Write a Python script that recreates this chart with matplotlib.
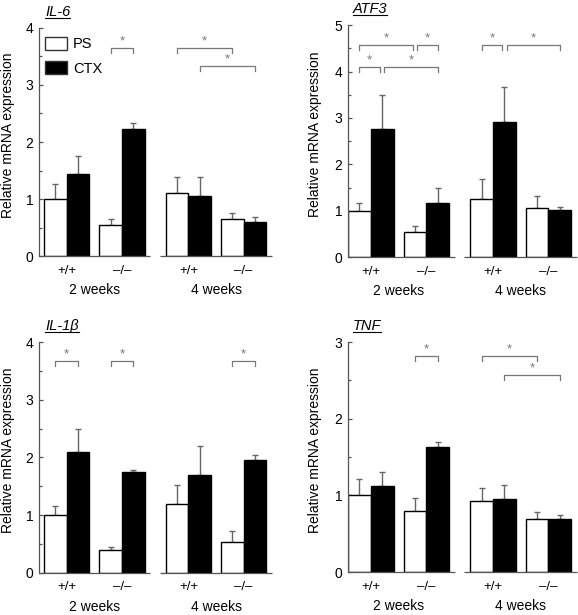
import matplotlib
matplotlib.use('Agg')
import matplotlib.pyplot as plt
from matplotlib.ticker import MultipleLocator
import numpy as np

plt.rcParams['font.family'] = ['Liberation Sans', 'DejaVu Sans']

# ---------------- data ----------------
genotypes = ['+/+', '\u2013/\u2013', '+/+', '\u2013/\u2013']
periods = ['2 weeks', '4 weeks']
series = ['PS', 'CTX']

il6_ps = [1.00, 0.54, 1.10, 0.65]
il6_ps_err = [0.26, 0.11, 0.29, 0.10]
il6_ctx = [1.44, 2.22, 1.05, 0.60]
il6_ctx_err = [0.31, 0.11, 0.33, 0.08]

atf3_ps = [1.00, 0.54, 1.25, 1.05]
atf3_ps_err = [0.16, 0.14, 0.43, 0.26]
atf3_ctx = [2.77, 1.17, 2.92, 1.01]
atf3_ctx_err = [0.72, 0.31, 0.75, 0.07]

il1b_ps = [1.00, 0.39, 1.20, 0.54]
il1b_ps_err = [0.15, 0.06, 0.33, 0.18]
il1b_ctx = [2.10, 1.74, 1.70, 1.95]
il1b_ctx_err = [0.40, 0.05, 0.50, 0.10]

tnf_ps = [1.00, 0.79, 0.92, 0.69]
tnf_ps_err = [0.21, 0.18, 0.18, 0.09]
tnf_ctx = [1.12, 1.63, 0.95, 0.69]
tnf_ctx_err = [0.18, 0.06, 0.19, 0.05]

# significance brackets: (bar index a, bar index b, height)
# bar order: PS+/+2w, CTX+/+2w, PS-/-2w, CTX-/-2w, PS+/+4w, CTX+/+4w, PS-/-4w, CTX-/-4w
il6_sig = [(2, 3, 3.65), (4, 6, 3.65), (5, 7, 3.33)]
atf3_sig = [(0, 2, 4.57), (2, 3, 4.57), (0, 1, 4.10), (1, 3, 4.10), (4, 5, 4.57), (5, 7, 4.57)]
il1b_sig = [(0, 1, 3.68), (2, 3, 3.68), (6, 7, 3.68)]
tnf_sig = [(2, 3, 2.82), (4, 6, 2.82), (5, 7, 2.57)]

# ---------------- layout ----------------
bar_left = np.array([0, 1, 2.44, 3.44, 5.37, 6.37, 7.8, 8.8])
seg1_end, seg2_start, x_right = 4.68, 5.1, 10.05
AX_COL = '#555555'
SIG_COL = '#777777'

fig = plt.figure(figsize=(5.78, 6.15), dpi=100)
fig.patch.set_facecolor('white')

axes_pos = [
    [0.0675, 0.5837, 0.403, 0.3708],
    [0.602, 0.582, 0.396, 0.377],
    [0.0675, 0.0688, 0.403, 0.3746],
    [0.602, 0.0699, 0.396, 0.374],
]

titles = ['IL-6', 'ATF3', 'IL-1\u03b2', 'TNF']
panels = [
    (il6_ps, il6_ps_err, il6_ctx, il6_ctx_err, 4, il6_sig, -0.22),
    (atf3_ps, atf3_ps_err, atf3_ctx, atf3_ctx_err, 5, atf3_sig, 0.0),
    (il1b_ps, il1b_ps_err, il1b_ctx, il1b_ctx_err, 4, il1b_sig, -0.22),
    (tnf_ps, tnf_ps_err, tnf_ctx, tnf_ctx_err, 3, tnf_sig, 0.0),
]

title_texts = []
for k, (pos, title, pdata) in enumerate(zip(axes_pos, titles, panels)):
    ps, ps_err, ctx, ctx_err, ymax, sig, xleft = pdata
    ax = fig.add_axes(pos)
    ps_x = bar_left[0::2]
    ctx_x = bar_left[1::2]
    ax.errorbar(ps_x + 0.5, ps, yerr=[np.zeros(4), ps_err], fmt='none',
                ecolor='#666666', elinewidth=1, capsize=2.5, capthick=1, zorder=1)
    ax.errorbar(ctx_x + 0.5, ctx, yerr=[np.zeros(4), ctx_err], fmt='none',
                ecolor='#666666', elinewidth=1, capsize=2.5, capthick=1, zorder=1)
    ax.bar(ps_x, ps, width=1, align='edge', color='white', edgecolor='black',
           linewidth=1, label=series[0], zorder=2)
    ax.bar(ctx_x, ctx, width=1, align='edge', color='black', edgecolor='black',
           linewidth=1, label=series[1], zorder=2)

    ax.set_xlim(xleft, x_right)
    ax.set_ylim(0, ymax)
    for s in ['top', 'right', 'bottom']:
        ax.spines[s].set_visible(False)
    ax.spines['left'].set_color(AX_COL)
    ax.spines['left'].set_linewidth(0.9)
    ax.hlines(0, xleft, seg1_end, color=AX_COL, lw=0.9, clip_on=False)
    ax.hlines(0, seg2_start, x_right, color=AX_COL, lw=0.9, clip_on=False)
    ax.set_xticks([])
    ax.yaxis.set_major_locator(MultipleLocator(1))
    ax.yaxis.set_minor_locator(MultipleLocator(0.5))
    ax.tick_params(axis='y', which='major', direction='in', length=3, width=0.9,
                   color=AX_COL, labelsize=10, pad=4)
    ax.tick_params(axis='y', which='minor', direction='in', length=2, width=0.9,
                   color=AX_COL)
    ax.set_ylabel('Relative mRNA expression', fontsize=10)
    ax.yaxis.set_label_coords(-0.103 if xleft < 0 else -0.113, 0.53)

    # genotype and period labels
    for i, g in enumerate(genotypes):
        xc = bar_left[2 * i] + 1.0
        ax.annotate(g, xy=(xc, 0), xycoords=('data', 'axes fraction'),
                    xytext=(0, -10.5), textcoords='offset points',
                    ha='center', va='center', fontsize=9.5)
    for j, p in enumerate(periods):
        xc = (bar_left[4 * j] + bar_left[4 * j + 3] + 1) / 2
        ax.annotate(p, xy=(xc, 0), xycoords=('data', 'axes fraction'),
                    xytext=(0, -24.5), textcoords='offset points',
                    ha='center', va='center', fontsize=10)

    # significance brackets
    drop = 0.022 * ymax
    for a, b, h in sig:
        xa = bar_left[a] + 0.5
        xb = bar_left[b] + 0.5
        for a2, b2, h2 in sig:
            if h2 == h and (a2, b2) != (a, b):
                if b2 == a:
                    xa += 0.1
                if a2 == b:
                    xb -= 0.1
        ax.plot([xa, xa, xb, xb], [h - drop, h, h, h - drop], color=SIG_COL,
                lw=0.9, clip_on=False)
        ax.annotate('*', xy=((xa + xb) / 2, h), xytext=(0, 0.5),
                    textcoords='offset points', ha='center', va='bottom',
                    fontsize=9.5, color=SIG_COL)

    t = ax.annotate(title, xy=(0.026 if xleft < 0 else 0.02, 1), xycoords='axes fraction',
                    xytext=(0, 11.5), textcoords='offset points', ha='left', va='center',
                    fontsize=10.5, style='italic')
    title_texts.append(t)

    if k == 0:
        leg = ax.legend(loc='upper left', bbox_to_anchor=(0.012, 0.975), frameon=False,
                        fontsize=10.5, handlelength=1.5, handleheight=1.0,
                        handletextpad=0.45, labelspacing=0.7, borderpad=0.2,
                        borderaxespad=0)
        for h_ in leg.get_patches():
            h_.set_edgecolor('#333333')

# underline titles
fig.canvas.draw()
r = fig.canvas.get_renderer()
inv = fig.transFigure.inverted()
for t in title_texts:
    bb = t.get_window_extent(r)
    (x0, y0), (x1, y1) = inv.transform([(bb.x0, bb.y0 + 1), (bb.x1, bb.y0 + 1)])
    fig.add_artist(plt.Line2D([x0, x1], [y0, y1], color='black', lw=0.8,
                              transform=fig.transFigure))

fig.savefig('out.png', dpi=100, facecolor='white')
